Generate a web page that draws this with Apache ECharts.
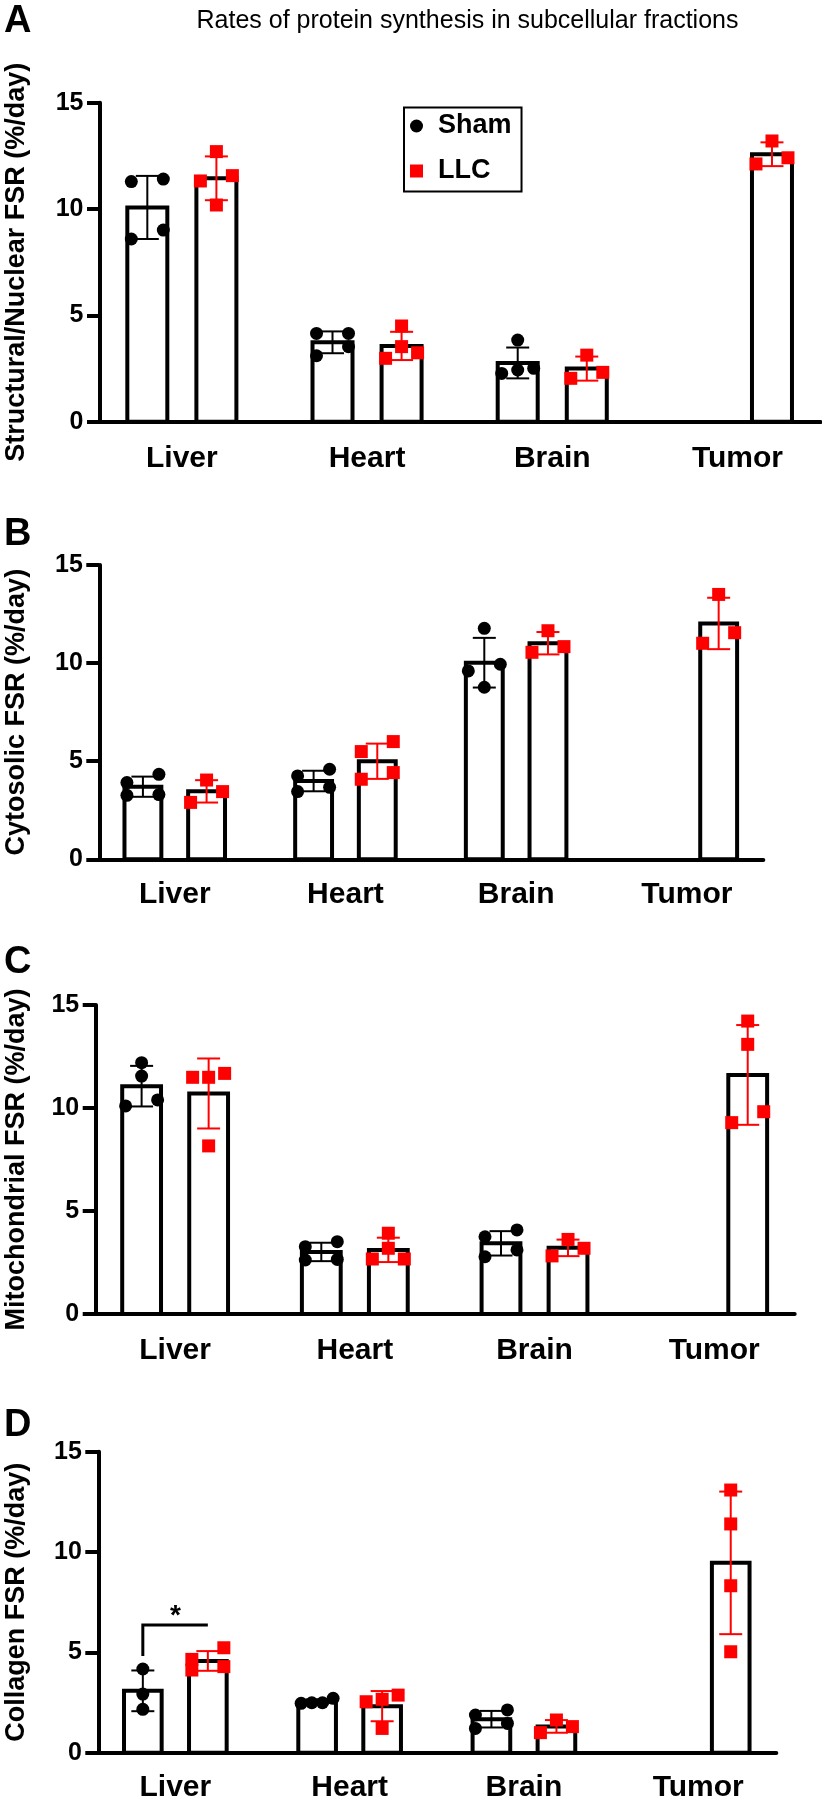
<!DOCTYPE html>
<html>
<head>
<meta charset="utf-8">
<script src="https://cdn.jsdelivr.net/npm/echarts@6.0.0/dist/echarts.min.js"></script>
<style>
html,body{margin:0;padding:0;background:#fff;}
#chart{width:822px;height:1807px;}
</style>
</head>
<body>
<div id="chart"></div>
<script>
// ---------------- data ----------------
const chartTitle = 'Rates of protein synthesis in subcellular fractions';
const categories = ['Liver', 'Heart', 'Brain', 'Tumor'];
const groups = ['Sham', 'LLC'];
const panelLetters = ['A', 'B', 'C', 'D'];
const yTitles = ['Structural/Nuclear FSR (%/day)', 'Cytosolic FSR (%/day)', 'Mitochondrial FSR (%/day)', 'Collagen FSR (%/day)'];
const yMin = 0, yMax = 15, yStep = 5;

// individual animals, per category [Liver, Heart, Brain, Tumor]
const structuralSham = [[11.29, 11.41, 9.01, 8.59], [4.15, 4.15, 3.53, 3.10], [3.84, 2.51, 2.27, 2.43], []];
const structuralLLC  = [[12.70, 11.57, 11.32, 10.19], [4.50, 3.53, 2.98, 3.24], [3.13, 2.04, 2.32], [13.20, 12.12, 12.41]];
const cytosolicSham  = [[4.33, 3.91, 3.26, 3.30], [4.25, 4.59, 3.45, 3.67], [11.77, 9.94, 9.60, 8.77], []];
const cytosolicLLC   = [[4.04, 3.45, 2.90], [5.49, 6.00, 4.08, 4.42], [11.65, 10.55, 10.84], [13.50, 11.01, 11.55]];
const mitoSham       = [[12.20, 11.55, 10.10, 10.39], [3.27, 3.51, 2.62, 2.65], [3.75, 4.08, 2.78, 3.11], []];
const mitoLLC        = [[11.68, 11.49, 11.49, 8.16], [3.92, 3.19, 2.67, 2.67], [3.62, 3.19, 2.82], [14.22, 13.09, 9.29, 9.82]];
const collagenSham   = [[4.17, 2.92, 2.16], [2.46, 2.71, 2.49, 2.49], [1.88, 2.13, 1.21, 1.46], []];
const collagenLLC    = [[5.23, 4.65, 4.12, 4.29], [2.87, 2.66, 2.54, 1.21], [1.63, 1.00, 1.30], [13.09, 11.40, 8.32, 5.03]];

// significance annotation (panel D, Liver): bracket height and leg end, in axis units
const sigPanel = 3, sigCategory = 0, sigBracketTop = 6.36, sigLegEnd = 4.82, sigLabel = '*';

const panelData = [
  [structuralSham, structuralLLC],
  [cytosolicSham, cytosolicLLC],
  [mitoSham, mitoLLC],
  [collagenSham, collagenLLC]
];

// ---------------- layout / style ----------------
const FONT = "'Liberation Sans', Arial, Helvetica, sans-serif";
const X_MIN = -0.442, X_MAX = 3.448;       // category index space
const GROUP_OFFSET = 0.1865;               // bar centre offset from category centre
const BAR_W = 0.216;                       // bar width (fraction of category spacing)
const panelLayout = [
  { left: 100.0, width: 720.4, top: 102.7, height: 319.0, catMargin: 22, nameGap: 70 },
  { left: 99.3,  width: 664.0, top: 565.0, height: 294.3, catMargin: 20, nameGap: 69 },
  { left: 95.7,  width: 699.0, top: 1005.0, height: 309.0, catMargin: 22, nameGap: 66 },
  { left: 98.3,  width: 678.0, top: 1451.7, height: 301.0, catMargin: 20, nameGap: 68 }
];
const letterY = [22, 535, 963, 1426];
const groupColors = ['#000000', '#ff0000'];

function mean(a) { return a.reduce((s, v) => s + v, 0) / a.length; }
function sd(a) {
  const m = mean(a);
  return Math.sqrt(a.reduce((s, v) => s + (v - m) * (v - m), 0) / (a.length - 1));
}

// simple GraphPad-like beeswarm: rows of close values spread symmetrically
function swarm(values, toPx) {
  const STEP = 16, T = 10, D = 13;
  const idx = values.map((v, i) => i).sort((a, b) => values[a] - values[b]);
  const rows = [];
  let cur = null;
  idx.forEach(i => {
    const py = toPx(values[i]);
    if (cur) {
      const dy = Math.abs(toPx(values[cur[0]]) - py);
      if (dy < T || (cur.length === 1 && dy < D)) { cur.push(i); return; }
    }
    cur = [i];
    rows.push(cur);
  });
  const off = new Array(values.length).fill(0);
  rows.forEach(r => {
    const k = r.length;
    r.forEach((i, j) => { off[i] = k === 1 ? 0 : -STEP + 2 * STEP * j / (k - 1); });
  });
  return off;
}

function makeRender(g, pts) {
  return function (params, api) {
    const i = api.value(0), m = api.value(1), s = api.value(2);
    const unit = api.size([1, 0])[0];
    const xc = api.coord([i + (g === 0 ? -1 : 1) * GROUP_OFFSET, 0])[0];
    const y0 = api.coord([i, 0])[1];
    const ym = api.coord([i, m])[1];
    const yHi = api.coord([i, m + s])[1];
    const yLo = api.coord([i, m - s])[1];
    const bw = BAR_W * unit;
    const col = groupColors[g];
    const cap = 11.5;
    const children = [
      { type: 'rect', shape: { x: xc - bw / 2, y: ym, width: bw, height: y0 - ym },
        style: { fill: '#ffffff', stroke: '#000000', lineWidth: 4 } },
      { type: 'line', shape: { x1: xc, y1: yHi, x2: xc, y2: yLo }, style: { stroke: col, lineWidth: 2 } },
      { type: 'line', shape: { x1: xc - cap, y1: yHi, x2: xc + cap, y2: yHi }, style: { stroke: col, lineWidth: 2 } },
      { type: 'line', shape: { x1: xc - cap, y1: yLo, x2: xc + cap, y2: yLo }, style: { stroke: col, lineWidth: 2 } }
    ];
    const vals = pts[i];
    const offs = swarm(vals, v => api.coord([i, v])[1]);
    vals.forEach((v, k) => {
      const px = xc + offs[k], py = api.coord([i, v])[1];
      if (g === 0) {
        children.push({ type: 'circle', shape: { cx: px, cy: py, r: 6.5 }, style: { fill: col } });
      } else {
        children.push({ type: 'rect', shape: { x: px - 6.5, y: py - 6.5, width: 13, height: 13 }, style: { fill: col } });
      }
    });
    return { type: 'group', children: children };
  };
}

const grids = [], xAxes = [], yAxes = [], series = [];
panelLayout.forEach((L, p) => {
  grids.push({ left: L.left, top: L.top, width: L.width, height: L.height, containLabel: false, outerBoundsMode: 'none' });
  xAxes.push({
    type: 'value', gridIndex: p, min: X_MIN, max: X_MAX,
    axisLine: { show: true, onZero: false, lineStyle: { color: '#000', width: 4 } },
    axisTick: { show: false },
    splitLine: { show: false },
    axisLabel: {
      customValues: categories.map((c, i) => i),
      formatter: v => categories[Math.round(v)] || '',
      margin: L.catMargin, color: '#000', fontFamily: FONT, fontSize: 30, fontWeight: 'bold'
    }
  });
  yAxes.push({
    type: 'value', gridIndex: p, min: yMin, max: yMax, interval: yStep,
    name: yTitles[p], nameLocation: 'middle', nameGap: L.nameGap, nameRotate: 90,
    nameTextStyle: { color: '#000', fontFamily: FONT, fontSize: 27, fontWeight: 'bold' },
    axisLine: { show: true, onZero: false, lineStyle: { color: '#000', width: 4 } },
    axisTick: { show: true, length: 13, lineStyle: { color: '#000', width: 4 } },
    splitLine: { show: false },
    axisLabel: { margin: 16.5, color: '#000', fontFamily: FONT, fontSize: 25, fontWeight: 'bold' }
  });
  panelData[p].forEach((pts, g) => {
    const data = [];
    pts.forEach((vals, i) => { if (vals.length) data.push([i, mean(vals), sd(vals)]); });
    series.push({
      type: 'custom', name: groups[g], xAxisIndex: p, yAxisIndex: p,
      itemStyle: { color: groupColors[g] },
      encode: { x: 0, y: 1 },
      clip: false,
      renderItem: makeRender(g, pts),
      data: data
    });
  });
});

// significance bracket
series.push({
  type: 'custom', name: 'sig', xAxisIndex: sigPanel, yAxisIndex: sigPanel, silent: true,
  encode: { x: 0, y: 1 },
  renderItem: function (params, api) {
    const c = api.value(0), top = api.value(1), leg = api.value(2);
    const p1 = api.coord([c - GROUP_OFFSET, top]);
    const p2 = api.coord([c + GROUP_OFFSET, top]);
    const p3 = api.coord([c - GROUP_OFFSET, leg]);
    return {
      type: 'group', children: [
        { type: 'polyline', shape: { points: [[p3[0], p3[1]], [p1[0], p1[1]], [p2[0], p2[1]]] },
          style: { stroke: '#000', lineWidth: 3, fill: null } },
        { type: 'text', x: (p1[0] + p2[0]) / 2, y: p1[1] - 9,
          style: { text: sigLabel, fill: '#000', font: 'bold 28px ' + FONT, align: 'center', verticalAlign: 'middle' } }
      ]
    };
  },
  data: [[sigCategory, sigBracketTop, sigLegEnd]]
});

const graphics = [
  { type: 'text', x: 467.5, y: 21,
    style: { text: chartTitle, fill: '#000', font: '25px ' + FONT, align: 'center', verticalAlign: 'middle' } }
];
panelLetters.forEach((t, p) => {
  graphics.push({ type: 'text', x: 4, y: letterY[p],
    style: { text: t, fill: '#000', font: 'bold 38px ' + FONT, align: 'left', verticalAlign: 'middle' } });
});

const chart = echarts.init(document.getElementById('chart'), null, { renderer: 'canvas' });
chart.setOption({
  animation: false,
  backgroundColor: '#ffffff',
  grid: grids,
  xAxis: xAxes,
  yAxis: yAxes,
  legend: {
    show: true, orient: 'vertical', left: 404, top: 107.5,
    data: [{ name: 'Sham', icon: 'circle' }, { name: 'LLC', icon: 'rect' }],
    itemWidth: 13, itemHeight: 13, itemGap: 18, selectedMode: false,
    padding: [5, 10, 7, 6],
    borderColor: '#000', borderWidth: 2,
    textStyle: { color: '#000', fontFamily: FONT, fontSize: 27, fontWeight: 'bold', padding: [0, 0, 0, 10] }
  },
  graphic: graphics,
  series: series
});
</script>
</body>
</html>
